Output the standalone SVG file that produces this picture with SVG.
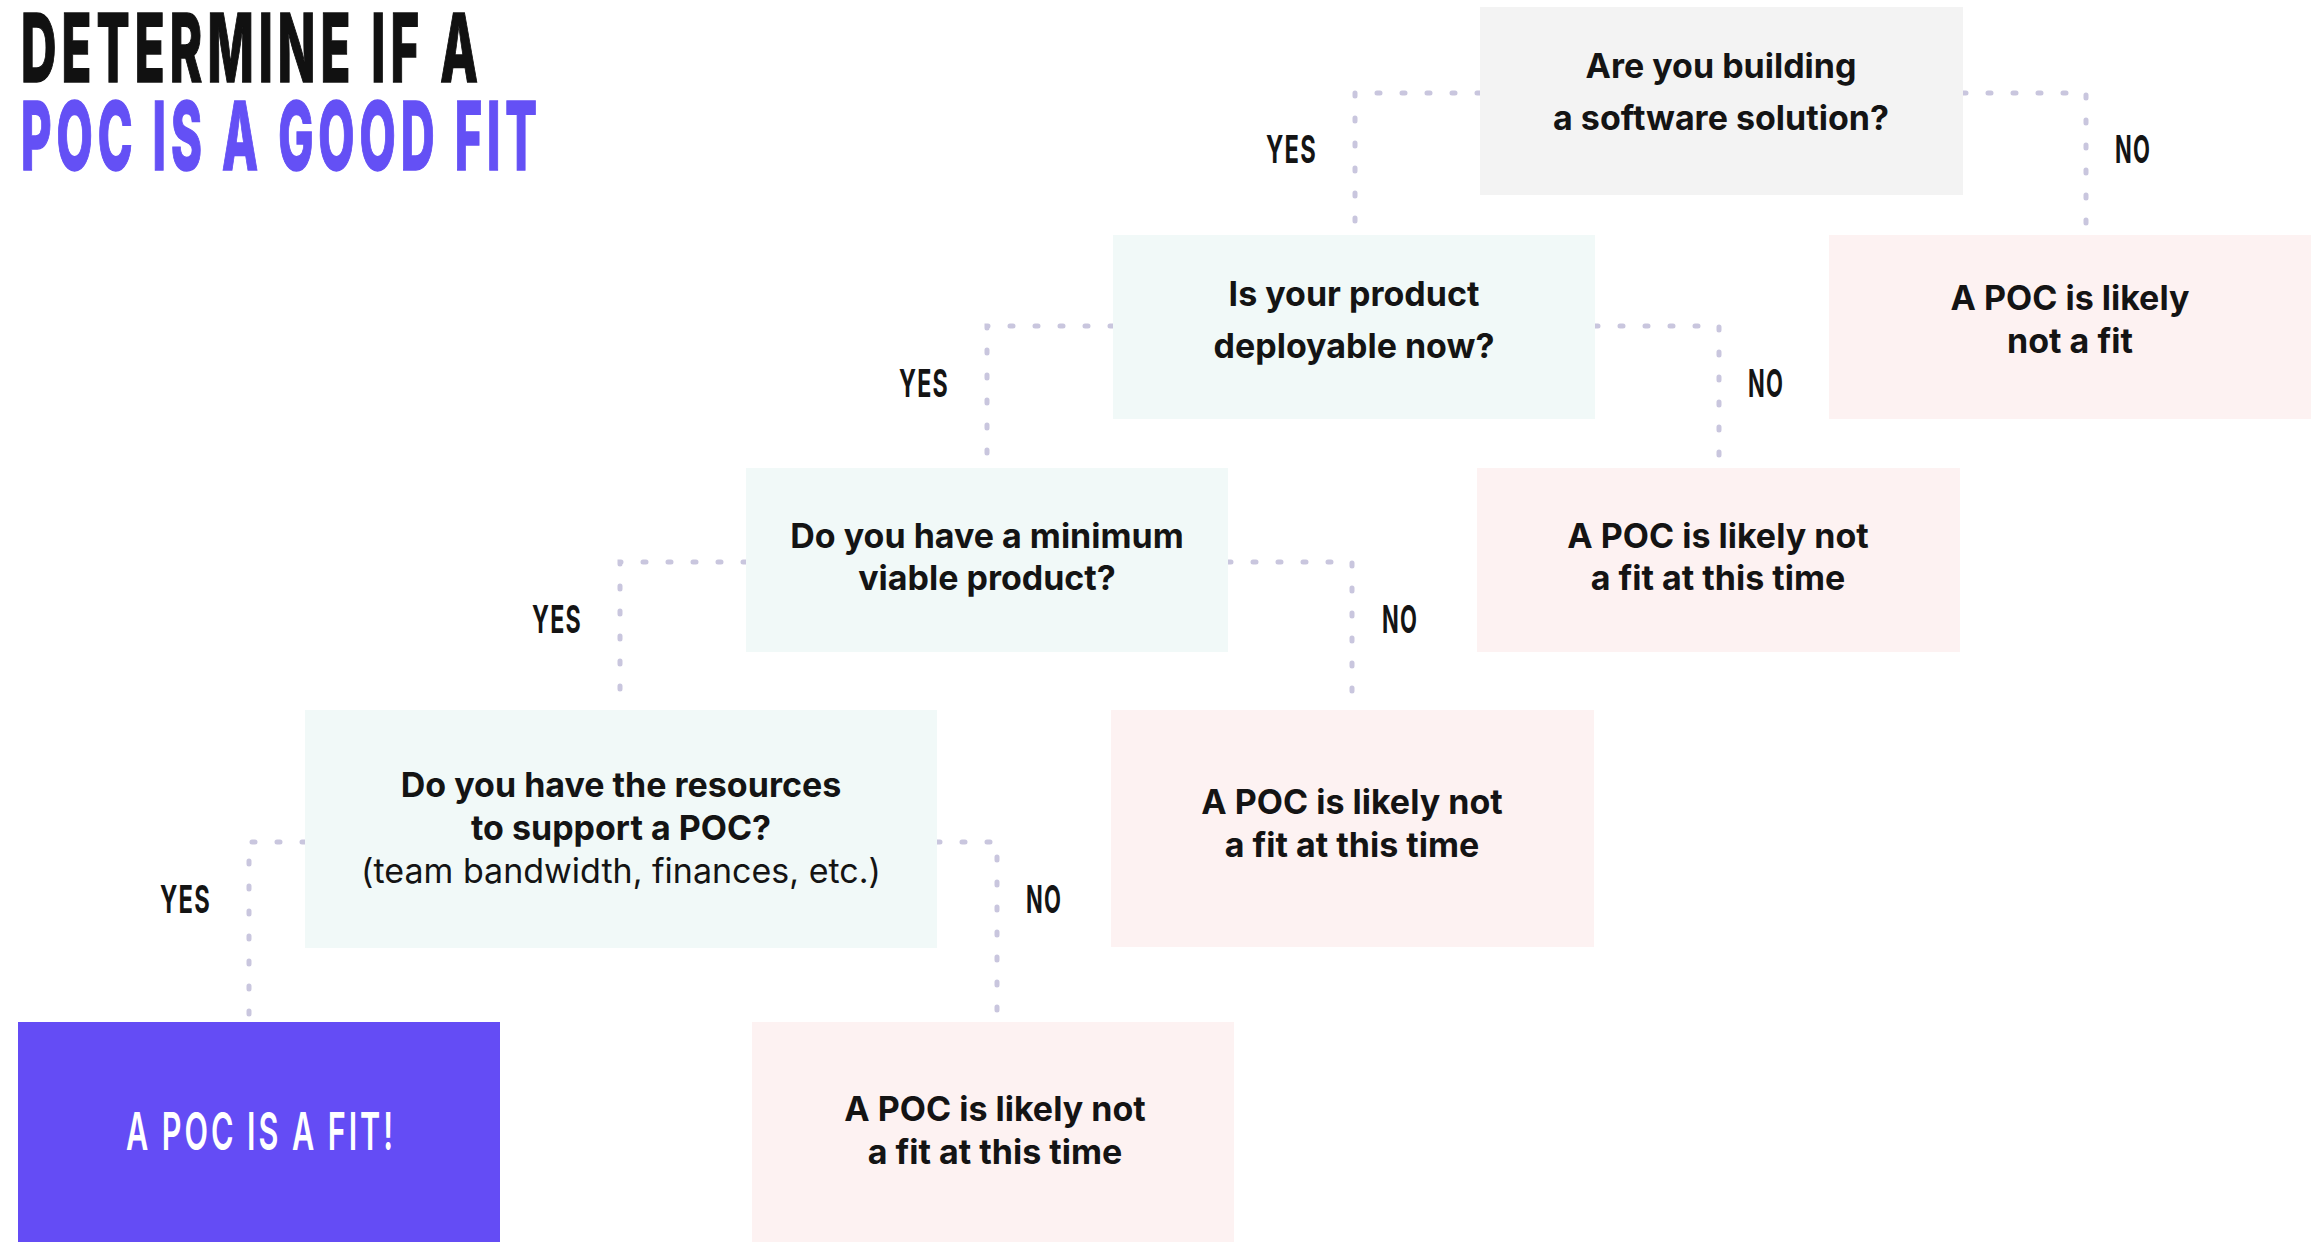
<svg xmlns="http://www.w3.org/2000/svg" width="2320" height="1242" viewBox="0 0 2320 1242">
<style>
.q{fill:#f3f3f3}.m{fill:#f1f9f8}.p{fill:#fdf2f2}.fit{fill:#644cf5}
.t{font-family:Inter,"Noto Sans",sans-serif;font-weight:700;font-size:34px;fill:#141414;text-anchor:middle}
.r{font-weight:400}
.b{font-family:Inter,"Liberation Sans",sans-serif;font-weight:700;font-size:38px;letter-spacing:2px;fill:#141414}
.h{font-family:Inter,"Liberation Sans",sans-serif;font-weight:800;font-size:95px;letter-spacing:10px;stroke-width:1.5}
.c{fill:none;stroke:#c9c6de;stroke-width:5;stroke-linecap:round;stroke-dasharray:3 22}
</style>
<rect width="2320" height="1242" fill="#fff"/>
<g id="title">
<text class="h" x="21" y="82" fill="#111" stroke="#111" textLength="462" lengthAdjust="spacingAndGlyphs">DETERMINE IF A</text>
<text class="h" x="21" y="170" fill="#6450f5" stroke="#6450f5" textLength="521" lengthAdjust="spacingAndGlyphs">POC IS A GOOD FIT</text>
</g>
<g id="connectors">
<path class="c" d="M1480 93H1355V235"/>
<path class="c" d="M1963 93H2086V235"/>
<path class="c" d="M1113 326H987V468"/>
<path class="c" d="M1595 326H1719V468"/>
<path class="c" d="M746 562H620V710"/>
<path class="c" d="M1228 562H1352V710"/>
<path class="c" d="M305 842H249V1022"/>
<path class="c" d="M937 842H997V1022"/>
</g>
<g id="labels">
<text class="b" x="1266" y="163" textLength="51" lengthAdjust="spacingAndGlyphs">YES</text>
<text class="b" x="2115" y="163" textLength="36" lengthAdjust="spacingAndGlyphs">NO</text>
<text class="b" x="899" y="397" textLength="50" lengthAdjust="spacingAndGlyphs">YES</text>
<text class="b" x="1748" y="397" textLength="36" lengthAdjust="spacingAndGlyphs">NO</text>
<text class="b" x="532" y="633" textLength="50" lengthAdjust="spacingAndGlyphs">YES</text>
<text class="b" x="1382" y="633" textLength="36" lengthAdjust="spacingAndGlyphs">NO</text>
<text class="b" x="160" y="913" textLength="51" lengthAdjust="spacingAndGlyphs">YES</text>
<text class="b" x="1026" y="913" textLength="36" lengthAdjust="spacingAndGlyphs">NO</text>
</g>
<g id="n1">
<rect class="q" x="1480" y="7" width="483" height="188"/>
<text class="t" x="1721" y="78">Are you building</text>
<text class="t" x="1721" y="130">a software solution?</text>
</g>
<g id="n1no">
<rect class="p" x="1829" y="235" width="482" height="184"/>
<text class="t" x="2070" y="310">A POC is likely</text>
<text class="t" x="2070" y="353">not a fit</text>
</g>
<g id="n2">
<rect class="m" x="1113" y="235" width="482" height="184"/>
<text class="t" x="1354" y="306">Is your product</text>
<text class="t" x="1354" y="358">deployable now?</text>
</g>
<g id="n2no">
<rect class="p" x="1477" y="468" width="483" height="184"/>
<text class="t" x="1718" y="548">A POC is likely not</text>
<text class="t" x="1718" y="590">a fit at this time</text>
</g>
<g id="n3">
<rect class="m" x="746" y="468" width="482" height="184"/>
<text class="t" x="987" y="548">Do you have a minimum</text>
<text class="t" x="987" y="590">viable product?</text>
</g>
<g id="n3no">
<rect class="p" x="1111" y="710" width="483" height="237"/>
<text class="t" x="1352" y="814">A POC is likely not</text>
<text class="t" x="1352" y="857">a fit at this time</text>
</g>
<g id="n4">
<rect class="m" x="305" y="710" width="632" height="238"/>
<text class="t" x="621" y="797">Do you have the resources</text>
<text class="t" x="621" y="840">to support a POC?</text>
<text class="t r" x="621" y="883">(team bandwidth, finances, etc.)</text>
</g>
<g id="fit">
<rect class="fit" x="18" y="1022" width="482" height="220"/>
<text x="126" y="1150" font-family="Inter, sans-serif" font-weight="600" font-size="52" letter-spacing="5" fill="#fff" textLength="270" lengthAdjust="spacingAndGlyphs">A POC IS A FIT!</text>
</g>
<g id="n4no">
<rect class="p" x="752" y="1022" width="482" height="220"/>
<text class="t" x="995" y="1121">A POC is likely not</text>
<text class="t" x="995" y="1164">a fit at this time</text>
</g>
</svg>
